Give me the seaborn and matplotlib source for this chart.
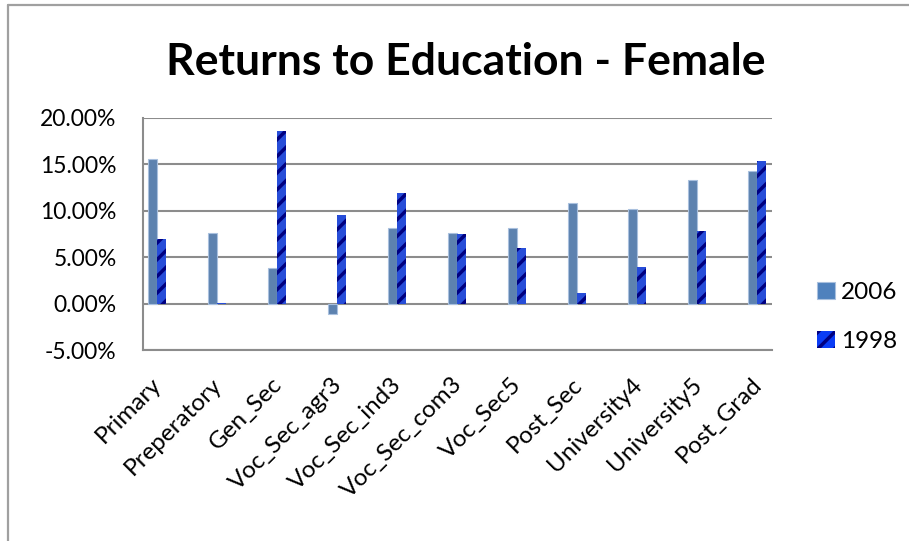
import pandas as pd
import matplotlib.pyplot as plt
import seaborn as sns
from matplotlib.ticker import PercentFormatter
from matplotlib.patches import Patch
from matplotlib.lines import Line2D
from matplotlib.transforms import ScaledTranslation

# Dados
niveis = ['Primary', 'Preperatory', 'Gen_Sec', 'Voc_Sec_agr3', 'Voc_Sec_ind3',
          'Voc_Sec_com3', 'Voc_Sec5', 'Post_Sec', 'University4', 'University5',
          'Post_Grad']
retorno_2006 = [0.1563, 0.0762, 0.0386, -0.0110, 0.0819, 0.0765,
                0.0812, 0.1082, 0.1020, 0.1336, 0.1430]
retorno_1998 = [0.0700, 0.0010, 0.1858, 0.0960, 0.1187, 0.0754,
                0.0603, 0.0115, 0.0397, 0.0787, 0.1534]
anos = ['2006', '1998']
y_ticks = [-0.05, 0.0, 0.05, 0.10, 0.15, 0.20]

# Configurações de estilo
sns.set_style("white")
plt.rcParams['font.family'] = ['Lato', 'DejaVu Sans']
plt.rcParams['hatch.linewidth'] = 2.5
plt.rcParams['text.color'] = 'black'
plt.rcParams['xtick.color'] = 'black'
plt.rcParams['ytick.color'] = 'black'
plt.rcParams['axes.unicode_minus'] = False

df = pd.DataFrame({
    'nivel': niveis * 2,
    'retorno': retorno_2006 + retorno_1998,
    'ano': [anos[0]] * len(niveis) + [anos[1]] * len(niveis),
})

cores = {'2006': '#4F81BD', '1998': '#0A3CF5'}

fig = plt.figure(figsize=(9.09, 5.41), dpi=100)
ax = fig.add_axes([0.1573, 0.3530, 0.6920, 0.4289])

sns.barplot(data=df, x='nivel', y='retorno', hue='ano', hue_order=anos,
            palette=cores, width=0.3, dodge=True, legend=False,
            errorbar=None, ax=ax)

# Barras 2006: borda clara; 1998: listras diagonais escuras
for p in ax.containers[0]:
    p.set_edgecolor('#A9C0DE')
    p.set_linewidth(0.8)
for p in ax.containers[1]:
    p.set_edgecolor('#000080')
    p.set_hatch('//')
    p.set_linewidth(0)

ax.set_ylim(-0.05, 0.20)
ax.set_xlim(-0.233, 10.25)
ax.set_yticks(y_ticks)
ax.yaxis.set_major_formatter(PercentFormatter(xmax=1, decimals=2))
ax.yaxis.grid(True, color='#8C8C8C', linewidth=1.5)
ax.set_axisbelow(True)
ax.set_xlabel('')
ax.set_ylabel('')

for s in ['top', 'right']:
    ax.spines[s].set_visible(False)
for s in ['left', 'bottom']:
    ax.spines[s].set_color('#8C8C8C')
    ax.spines[s].set_linewidth(1.5)

ax.tick_params(axis='y', length=0, pad=19, labelsize=16.5)
ax.tick_params(axis='x', length=0, pad=17, labelsize=17.5)
desloc = ScaledTranslation(-6 / 100, 0, fig.dpi_scale_trans)
for lbl in ax.get_xticklabels():
    lbl.set_rotation(45)
    lbl.set_ha('right')
    lbl.set_rotation_mode('anchor')
    lbl.set_transform(lbl.get_transform() + desloc)

fig.text(0.512, 0.885, 'Returns to Education - Female', ha='center',
         va='center', fontsize=32, fontweight='bold')

# Legenda
handles = [Patch(facecolor=cores['2006'], edgecolor='#A9C0DE', linewidth=0.8),
           Patch(facecolor=cores['1998'], edgecolor='#000080', hatch='//',
                 linewidth=0)]
fig.legend(handles, anos, loc='center left', bbox_to_anchor=(0.899, 0.414),
           frameon=False, fontsize=17.5, labelspacing=1.15, handlelength=0.72,
           handleheight=0.72, handletextpad=0.25, borderpad=0,
           borderaxespad=0)

# Moldura cinza (topo e esquerda)
fig.add_artist(Line2D([8 / 909, 8 / 909], [0, 1 - 5 / 541],
                      transform=fig.transFigure, color='#A0A0A0', linewidth=1.6))
fig.add_artist(Line2D([8 / 909, 1], [1 - 5 / 541, 1 - 5 / 541],
                      transform=fig.transFigure, color='#A0A0A0', linewidth=1.6))

fig.savefig('out.png', dpi=100)
